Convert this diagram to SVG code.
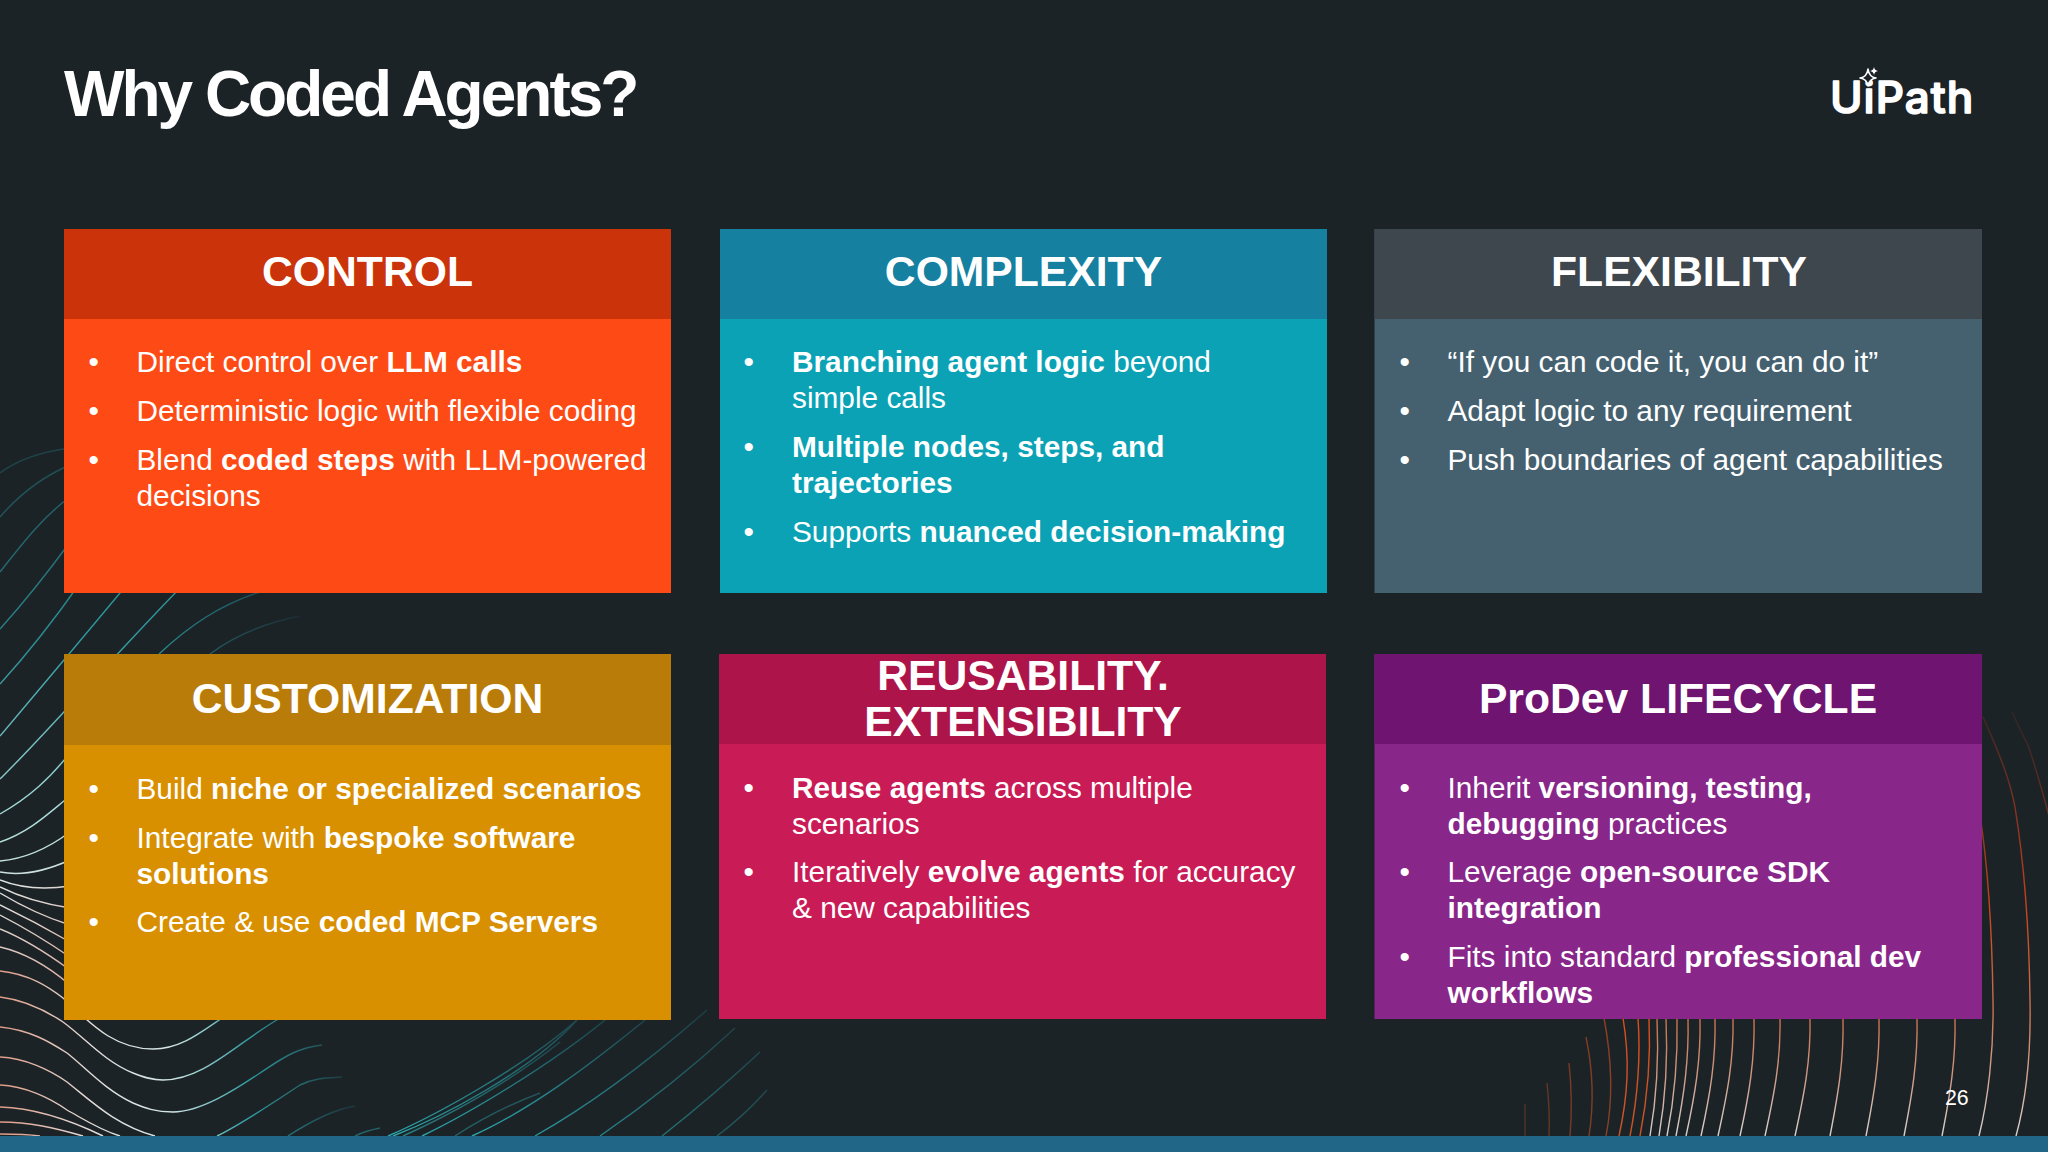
<svg xmlns="http://www.w3.org/2000/svg" width="2048" height="1152" viewBox="0 0 2048 1152">
<defs>
<linearGradient id="gTeal" gradientUnits="userSpaceOnUse" x1="0" y1="450" x2="60" y2="900">
<stop offset="0" stop-color="#1f6f78"/><stop offset="0.45" stop-color="#2f9ba0"/><stop offset="0.8" stop-color="#a9dcd9"/><stop offset="1" stop-color="#dfe6e6"/>
</linearGradient>
<linearGradient id="gFade" gradientUnits="userSpaceOnUse" x1="150" y1="0" x2="300" y2="0">
<stop offset="0" stop-color="#2a8f95"/><stop offset="0.6" stop-color="#1f5a62"/><stop offset="1" stop-color="#1c2f35"/>
</linearGradient>
<linearGradient id="gMid" gradientUnits="userSpaceOnUse" x1="0" y1="880" x2="70" y2="1000">
<stop offset="0" stop-color="#dfe6e6"/><stop offset="1" stop-color="#dca898"/>
</linearGradient>
<linearGradient id="gBot" gradientUnits="userSpaceOnUse" x1="0" y1="0" x2="345" y2="0">
<stop offset="0" stop-color="#dd9a84"/><stop offset="0.25" stop-color="#e4dcd8"/><stop offset="0.5" stop-color="#cfe6e4"/><stop offset="0.72" stop-color="#2f9ba0"/><stop offset="1" stop-color="#1c3a40"/>
</linearGradient>
<linearGradient id="gUp" gradientUnits="userSpaceOnUse" x1="0" y1="1136" x2="0" y2="1015">
<stop offset="0" stop-color="#2ba6ac"/><stop offset="0.5" stop-color="#237278"/><stop offset="1" stop-color="#1c4249"/>
</linearGradient>
<linearGradient id="gOr" gradientUnits="userSpaceOnUse" x1="0" y1="1136" x2="0" y2="1019">
<stop offset="0" stop-color="#c8552a"/><stop offset="1" stop-color="#d94f1c"/>
</linearGradient>
<linearGradient id="gRt" gradientUnits="userSpaceOnUse" x1="0" y1="1136" x2="0" y2="1019">
<stop offset="0" stop-color="#d9d2ce"/><stop offset="0.5" stop-color="#cf9a85"/><stop offset="1" stop-color="#c9704c"/>
</linearGradient>
<linearGradient id="gFar" gradientUnits="userSpaceOnUse" x1="0" y1="1136" x2="0" y2="710">
<stop offset="0" stop-color="#d9d2ce"/><stop offset="0.3" stop-color="#c9704c"/><stop offset="0.55" stop-color="#c8401c"/><stop offset="1" stop-color="#3c2522"/>
</linearGradient>
</defs>
<style>
text{font-family:"Liberation Sans",Arial,sans-serif;fill:#fff}
.head{font-size:42.67px;font-weight:700;text-anchor:middle}
.body{font-size:29.8px}
.b{font-weight:700}
.l{fill:none;stroke-width:1.4}
.t{stroke:url(#gTeal)}
.a{stroke:url(#gFade)}
.m{stroke:url(#gMid)}
.o{stroke:url(#gBot)}
.u{stroke:url(#gUp)}
.r{stroke:url(#gOr)}
.w{stroke:url(#gRt)}
.f{stroke:url(#gFar)}
</style>
<rect width="2048" height="1152" fill="#1c2327"/>
<g id="background-lines">
<g id="lines-left">
<path class="l t" opacity=".4" d="M0 473Q25 454 70 448"/>
<path class="l t" opacity=".55" d="M0 517Q30 482 70 465"/>
<path class="l t" opacity=".7" d="M0 572C25 540 45 515 70 497"/>
<path class="l t" opacity=".8" d="M0 629Q35 590 70 542"/>
<path class="l t" opacity=".9" d="M0 684Q40 640 80 583"/>
<path class="l t" d="M0 736Q60 665 125 587"/>
<path class="l t" d="M0 779C40 740 110 660 180 588"/>
<path class="l t" d="M0 814C30 797 50 778 70 753"/>
<path class="l a" d="M159 654C190 625 220 605 260 592"/>
<path class="l t" d="M0 842C30 832 50 812 70 796"/>
<path class="l a" opacity=".75" d="M210 654C235 635 265 623 300 616"/>
<path class="l t" d="M0 861Q35 858 70 832"/>
<path class="l t" d="M0 872Q30 878 70 860"/>
<path class="l m" d="M0 880Q30 892 70 886"/>
<path class="l m" d="M0 887Q30 902 70 908"/>
<path class="l m" d="M0 893Q35 914 70 925"/>
<path class="l m" d="M0 905Q35 922 70 942"/>
<path class="l m" d="M0 915Q35 933 70 957"/>
<path class="l m" d="M0 929Q30 941 70 970"/>
<path class="l m" d="M0 947Q35 955 70 985"/>
<path class="l o" d="M0 971C30 974 50 988 63 998C85 1017 110 1049 153 1049C180 1049 200 1033 222 1018"/>
<path class="l o" d="M0 997C25 1000 45 1010 63 1022C85 1038 105 1062 133 1073C145 1078 152 1080 163 1080C205 1080 240 1040 282 1017"/>
<path class="l o" d="M0 1027C30 1030 50 1042 67 1053C85 1067 105 1090 133 1103C145 1108 155 1112 173 1112C200 1112 235 1090 260 1073C280 1060 295 1048 322 1045"/>
<path class="l o" d="M0 1057C25 1058 50 1070 67 1082C90 1100 115 1125 155 1136"/>
<path class="l o" d="M0 1085C25 1086 50 1098 67 1110C85 1120 100 1130 120 1136"/>
<path class="l o" d="M0 1107C35 1108 70 1120 103 1136"/>
<path class="l o" d="M0 1122C30 1122 55 1128 83 1136"/>
<path class="l o" d="M0 1134Q25 1134 40 1136"/>
<path class="l o" d="M217 1136C240 1125 270 1105 300 1085C315 1078 325 1078 342 1077"/>
<path class="l o" d="M288 1136C305 1125 330 1110 355 1106"/>
</g>
<g id="lines-bottom-mid">
<path class="l u" opacity=".5" d="M355 1136Q365 1131 380 1128"/>
<path class="l u" d="M388 1136C430 1118 520 1070 577 1020"/>
<path class="l u" d="M393 1136C440 1118 530 1072 577 1020"/>
<path class="l u" opacity=".7" d="M403 1136C450 1115 510 1082 560 1042"/>
<path class="l u" d="M422 1136C470 1113 550 1065 605 1020"/>
<path class="l u" opacity=".5" d="M455 1136Q495 1110 540 1093"/>
<path class="l u" d="M472 1136C530 1110 590 1065 645 1020"/>
<path class="l u" opacity=".9" d="M535 1136C590 1105 650 1060 707 1010"/>
<path class="l u" opacity=".75" d="M600 1136C645 1105 690 1070 735 1028"/>
<path class="l u" opacity=".6" d="M662 1136C695 1110 730 1080 760 1052"/>
<path class="l u" opacity=".4" d="M717 1136Q745 1115 767 1090"/>
</g>
<g id="lines-right">
<path class="l r" opacity=".3" d="M1525 1136V1104"/>
<path class="l r" opacity=".4" d="M1549 1136Q1550 1110 1547 1083"/>
<path class="l r" opacity=".5" d="M1570 1136Q1573 1100 1569 1063"/>
<path class="l r" opacity=".55" d="M1589 1136C1593 1110 1594 1075 1586 1037"/>
<path class="l r" opacity=".6" d="M1606 1136C1613 1100 1612 1060 1604 1018"/>
<path class="l r" d="M1619 1136C1628 1095 1630 1060 1623 1018"/>
<path class="l r" d="M1630 1136C1638 1095 1641 1060 1638 1018"/>
<path class="l r" d="M1640 1136C1648 1095 1651 1060 1649 1018"/>
<path class="l w" d="M1650 1136C1657 1095 1659 1060 1657 1018"/>
<path class="l w" d="M1659 1136C1666 1095 1668 1060 1666 1018"/>
<path class="l w" d="M1667 1136C1675 1095 1678 1060 1677 1018"/>
<path class="l w" d="M1676 1136C1684 1095 1689 1060 1688 1018"/>
<path class="l w" d="M1686 1136C1695 1095 1701 1060 1700 1018"/>
<path class="l w" d="M1701 1136C1710 1095 1716 1060 1715 1018"/>
<path class="l w" d="M1718 1136C1727 1095 1734 1060 1733 1018"/>
<path class="l w" d="M1740 1136C1749 1095 1755 1060 1754 1018"/>
<path class="l w" d="M1765 1136C1774 1095 1781 1060 1780 1018"/>
<path class="l w" d="M1795 1136C1804 1095 1811 1060 1810 1018"/>
<path class="l w" d="M1830 1136C1838 1095 1844 1060 1843 1018"/>
<path class="l w" d="M1866 1136C1874 1095 1880 1060 1879 1018"/>
<path class="l w" d="M1904 1136C1912 1095 1918 1060 1917 1018"/>
<path class="l w" d="M1942 1136C1950 1095 1956 1060 1955 1018"/>
<path class="l f" d="M1979 1136C1988 1100 1994 1050 1993 1000C1992 930 1988 867 1980 815"/>
<path class="l f" d="M2016 1136C2026 1100 2031 1050 2030 1000C2029 920 2022 850 2015 807C2010 780 2000 755 1983 717"/>
<path class="l f" opacity=".7" d="M2049 816C2041 785 2030 750 2027 743C2020 730 2015 718 2012 712"/>
</g>
</g>
<rect id="bottom-bar" x="0" y="1136" width="2048" height="16" fill="#216686"/>
<text id="title" x="64" y="116" font-size="64" font-weight="700" letter-spacing="-3">Why Coded Agents?</text>
<g id="logo">
<text x="1830" y="113" letter-spacing="1" style="font-family:Inter,'Liberation Sans',sans-serif;font-size:44px;font-weight:500;stroke:#fff;stroke-width:1.6;stroke-linejoin:round">UiPath</text>
<path d="M1868 69Q1869 77 1876 78Q1869 79 1868 86Q1867 79 1860 78Q1867 77 1868 69Z" fill="#1c2327" stroke="#fff" stroke-width="1.6" stroke-linejoin="round"/>
<path d="M1874 67Q1874.500 70.500 1878 71Q1874.500 71.500 1874 75Q1873.500 71.500 1870 71Q1873.500 70.500 1874 67Z" fill="#fff"/>
</g>
<g id="card-control">
<rect x="64" y="229" width="607" height="364" fill="#fe4a15"/><rect x="64" y="229" width="607" height="90" fill="#cb340a"/>
<text class="head" x="367.500" y="286">CONTROL</text>
<text class="body" x="88.500" y="372">•</text><text class="body" x="136.500" y="372">Direct control over <tspan class="b">LLM calls</tspan></text>
<text class="body" x="88.500" y="421">•</text><text class="body" x="136.500" y="421">Deterministic logic with flexible coding</text>
<text class="body" x="88.500" y="470">•</text><text class="body" x="136.500" y="470">Blend <tspan class="b">coded steps</tspan> with LLM-powered</text>
<text class="body" x="136.500" y="506">decisions</text>
</g>
<g id="card-complexity">
<rect x="720" y="229" width="607" height="364" fill="#0ba2b6"/><rect x="720" y="229" width="607" height="90" fill="#15809f"/>
<text class="head" x="1023.500" y="286">COMPLEXITY</text>
<text class="body" x="743.500" y="372">•</text><text class="body" x="792" y="372"><tspan class="b">Branching agent logic</tspan> beyond</text>
<text class="body" x="792" y="408">simple calls</text>
<text class="body" x="743.500" y="457">•</text><text class="body" x="792" y="457" font-weight="700">Multiple nodes, steps, and</text>
<text class="body" x="792" y="493" font-weight="700">trajectories</text>
<text class="body" x="743.500" y="541.500">•</text><text class="body" x="792" y="541.500">Supports <tspan class="b">nuanced decision-making</tspan></text>
</g>
<g id="card-flexibility">
<rect x="1374.500" y="229" width="607.500" height="364" fill="#456170"/><rect x="1374.500" y="229" width="607.500" height="90" fill="#3e474e"/>
<text class="head" x="1679" y="286">FLEXIBILITY</text>
<text class="body" x="1399.500" y="372">•</text><text class="body" x="1447.500" y="372">“If you can code it, you can do it”</text>
<text class="body" x="1399.500" y="421">•</text><text class="body" x="1447.500" y="421">Adapt logic to any requirement</text>
<text class="body" x="1399.500" y="470">•</text><text class="body" x="1447.500" y="470">Push boundaries of agent capabilities</text>
</g>
<g id="card-customization">
<rect x="64" y="654" width="607" height="366" fill="#d88f00"/><rect x="64" y="654" width="607" height="91" fill="#ba7c09"/>
<text class="head" x="367.500" y="713">CUSTOMIZATION</text>
<text class="body" x="88.500" y="799">•</text><text class="body" x="136.500" y="799">Build <tspan class="b">niche or specialized scenarios</tspan></text>
<text class="body" x="88.500" y="848">•</text><text class="body" x="136.500" y="848">Integrate with <tspan class="b">bespoke software</tspan></text>
<text class="body" x="136.500" y="884" font-weight="700">solutions</text>
<text class="body" x="88.500" y="932">•</text><text class="body" x="136.500" y="932">Create &amp; use <tspan class="b">coded MCP Servers</tspan></text>
</g>
<g id="card-reusability">
<rect x="719" y="654" width="607" height="365" fill="#c91b55"/><rect x="719" y="654" width="607" height="90" fill="#ad154a"/>
<text class="head" x="1023" y="690">REUSABILITY.</text>
<text class="head" x="1023" y="736">EXTENSIBILITY</text>
<text class="body" x="743.500" y="798">•</text><text class="body" x="792" y="798"><tspan class="b">Reuse agents</tspan> across multiple</text>
<text class="body" x="792" y="834">scenarios</text>
<text class="body" x="743.500" y="882">•</text><text class="body" x="792" y="882">Iteratively <tspan class="b">evolve agents</tspan> for accuracy</text>
<text class="body" x="792" y="918">&amp; new capabilities</text>
</g>
<g id="card-prodev-lifecycle">
<rect x="1374.500" y="654" width="607.500" height="365" fill="#89268a"/><rect x="1374.500" y="654" width="607.500" height="90" fill="#6f1470"/>
<text class="head" x="1678" y="712.500">ProDev LIFECYCLE</text>
<text class="body" x="1399.500" y="798">•</text><text class="body" x="1447.500" y="798">Inherit <tspan class="b">versioning, testing,</tspan></text>
<text class="body" x="1447.500" y="834"><tspan class="b">debugging</tspan> practices</text>
<text class="body" x="1399.500" y="882">•</text><text class="body" x="1447.500" y="882">Leverage <tspan class="b">open-source SDK</tspan></text>
<text class="body" x="1447.500" y="918" font-weight="700">integration</text>
<text class="body" x="1399.500" y="967">•</text><text class="body" x="1447.500" y="967">Fits into standard <tspan class="b">professional dev</tspan></text>
<text class="body" x="1447.500" y="1003" font-weight="700">workflows</text>
</g>
<text id="page-number" x="1945" y="1105" font-size="21.330">26</text>
</svg>
